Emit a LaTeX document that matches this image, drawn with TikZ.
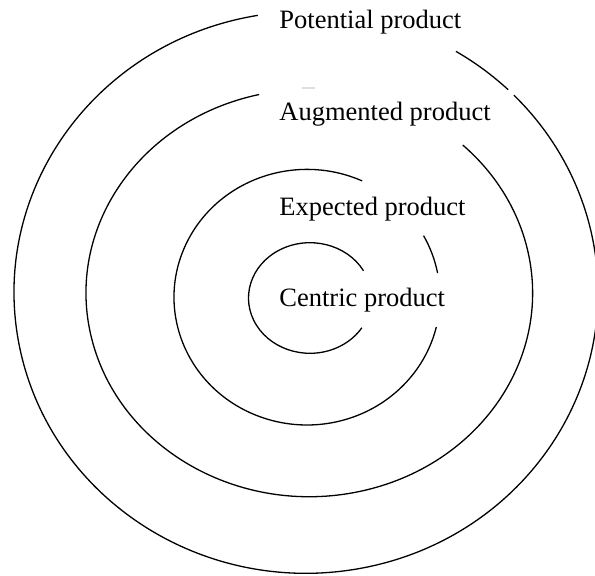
\documentclass[tikz,border=0pt]{standalone}
\usepackage{fontspec}
\setmainfont{Liberation Serif}

\tikzset{ring/.style={line width=0.65pt},
	lbl/.style={anchor=base west, inner sep=0pt, font=\fontsize{13.25}{16}\selectfont}}

\begin{document}
\begin{tikzpicture}[x=0.5pt, y=0.5pt]
	\useasboundingbox (0,0) rectangle (595,575);
	% rings, each one broken where its label sits
	\draw[ring] (306,282.6) ++(99.5:292 and 280.9) arc[start angle=99.5, end angle=404.6, x radius=292, y radius=280.9];
	\draw[ring] (306,282.6) ++(46.2:292 and 280.9) arc[start angle=46.2, end angle=59.1, x radius=292, y radius=280.9];
	\draw[ring] (309.3,282) ++(103:223.3 and 203.7) arc[start angle=103, end angle=406.6, x radius=223.3, y radius=203.7];
	\draw[ring] (307,277.8) ++(65.5:133 and 127.8) arc[start angle=65.5, end angle=346.5, x radius=133, y radius=127.8];
	\draw[ring] (307,277.8) ++(10.9:133 and 127.8) arc[start angle=10.9, end angle=28.8, x radius=133, y radius=127.8];
	\draw[ring] (310,277) ++(29.5:61.5 and 55.3) arc[start angle=29.5, end angle=327.5, x radius=61.5, y radius=55.3];
	\draw[gray!25, line width=0.8pt] (302,487) -- (315,487);

	\node[lbl] (pot) at (279,546.7) {Potential product};
	\node[lbl] (aug) at (279,455) {Augmented product};
	\node[lbl] (exp) at (279,360) {Expected product};
	\node[lbl] (cen) at (279,268.3) {Centric product};
\end{tikzpicture}
\end{document}
